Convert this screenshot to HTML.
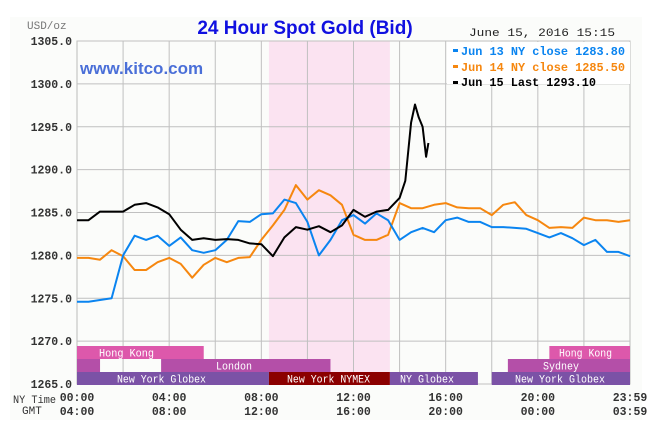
<!DOCTYPE html>
<html><head><meta charset="utf-8"><style>
body{margin:0;background:#fff;}
svg text{font-family:"Liberation Mono",monospace;}
</style></head><body>
<svg id="c" width="656" height="434" xmlns="http://www.w3.org/2000/svg">
<rect x="10" y="17" width="632" height="403" fill="#fbfcfa"/>
<g id="bg"></g>
<g id="grid"></g>
<g id="series"></g>
<g id="sessions"></g>
<g id="axes"></g>
<text x="305" y="34" text-anchor="middle" fill="#1010e0" font-size="19" font-weight="bold" style="font-family:'Liberation Sans',sans-serif">24 Hour Spot Gold (Bid)</text>
<text x="27" y="29" fill="#777" font-size="11">USD/oz</text>
<text x="469" y="36" fill="#222" font-size="11" textLength="146" lengthAdjust="spacingAndGlyphs">June 15, 2016 15:15</text>
<text x="80" y="74" fill="#4a6fd8" font-size="17" font-weight="bold" style="font-family:'Liberation Sans',sans-serif">www.kitco.com</text>
<g>
<rect x="447" y="42" width="183" height="42" fill="#fff"/>
<rect x="453" y="49" width="5" height="3" fill="#0a84f0"/>
<text x="461" y="55" fill="#0a84f0" font-size="11.5" font-weight="bold" textLength="164" lengthAdjust="spacingAndGlyphs">Jun 13 NY close 1283.80</text>
<rect x="453" y="65" width="5" height="3" fill="#f6870f"/>
<text x="461" y="71" fill="#f6870f" font-size="11.5" font-weight="bold" textLength="164" lengthAdjust="spacingAndGlyphs">Jun 14 NY close 1285.50</text>
<rect x="453" y="81" width="5" height="3" fill="#000"/>
<text x="461" y="86" fill="#000" font-size="11.5" font-weight="bold" textLength="135" lengthAdjust="spacingAndGlyphs">Jun 15 Last 1293.10</text>
</g>
</svg>
<script>
const yTicks=[1305,1300,1295,1290,1285,1280,1275,1270,1265];
const nyLabels=["00:00","04:00","08:00","12:00","16:00","20:00","23:59"];
const gmtLabels=["04:00","08:00","12:00","16:00","20:00","00:00","03:59"];
const labelHours=[0,4,8,12,16,20,24];
const jun13=[1274.6,1274.6,1274.8,1275.0,1280.0,1282.3,1281.8,1282.3,1281.1,1282.1,1280.6,1280.3,1280.6,1281.8,1284.0,1283.9,1284.8,1284.9,1286.5,1286.1,1283.9,1280.0,1281.8,1284.1,1284.7,1283.7,1284.9,1284.1,1281.8,1282.7,1283.2,1282.7,1284.1,1284.4,1283.9,1283.9,1283.3,1283.3,1283.2,1283.1,1282.6,1282.1,1282.6,1282.0,1281.2,1281.8,1280.4,1280.4,1279.9];
const jun14=[1279.7,1279.7,1279.5,1280.6,1279.9,1278.3,1278.3,1279.2,1279.7,1279.0,1277.4,1278.9,1279.7,1279.2,1279.7,1279.8,1281.8,1283.5,1285.3,1288.2,1286.5,1287.6,1287.0,1285.9,1282.4,1281.8,1281.8,1282.4,1286.1,1285.5,1285.5,1285.9,1286.1,1285.6,1285.5,1285.5,1284.7,1285.9,1286.2,1284.7,1284.1,1283.2,1283.3,1283.2,1284.4,1284.1,1284.1,1283.9,1284.1];
const jun15=[1284.1,1284.1,1285.1,1285.1,1285.1,1285.9,1286.1,1285.6,1284.8,1283.0,1281.8,1282.0,1281.8,1281.9,1281.8,1281.4,1281.3,1279.9,1282.1,1283.3,1283.0,1283.4,1282.7,1283.5,1285.3,1284.5,1285.1,1285.3,1286.7,1288.7,1295.5,1297.6,1296.1,1295.0,1291.5,1293.1];
const jun15Hours=[0,.5,1,1.5,2,2.5,3,3.5,4,4.5,5,5.5,6,6.5,7,7.5,8,8.5,9,9.5,10,10.5,11,11.5,12,12.5,13,13.5,14,14.25,14.5,14.67,14.83,15,15.15,15.25];
const NS="http://www.w3.org/2000/svg";
const X0=77,X1=630,Y0=41,Y1=384;
const xs=h=>X0+(X1-X0)*h/24;
const ys=p=>Y0+(1305-p)*(Y1-Y0)/40;
function mk(t,a,parent){const e=document.createElementNS(NS,t);for(const k in a)e.setAttribute(k,a[k]);document.getElementById(parent).appendChild(e);return e;}
let b=mk('rect',{x:xs(8.33),y:Y0,width:xs(13.58)-xs(8.33),height:Y1-Y0,fill:'#fbe3f1'},'bg');


mk('rect',{x:X0,y:Y0,width:X1-X0,height:Y1-Y0,fill:'none',stroke:'#bbb'},'grid');
for(let h=2;h<24;h+=2){let l=mk('line',{x1:xs(h),x2:xs(h),y1:Y0,y2:Y1,stroke:'#c0c0c0'},'grid');

}
yTicks.forEach(v=>{let l=mk('line',{x1:X0,x2:X1,y1:ys(v),y2:ys(v),stroke:'#c0c0c0'},'grid');


let t=mk('text',{x:72,y:ys(v)+4,'text-anchor':'end','font-size':11.5,'font-weight':'bold',fill:'#333'},'axes');t.textContent=v.toFixed(1);

});
labelHours.forEach((h,i)=>{let t=mk('text',{x:xs(h),y:401,'text-anchor':'middle','font-size':11.5,'font-weight':'bold',fill:'#333'},'axes');t.textContent=nyLabels[i];


let g=mk('text',{x:xs(h),y:415,'text-anchor':'middle','font-size':11.5,'font-weight':'bold',fill:'#333'},'axes');g.textContent=gmtLabels[i];

});
let t1=mk('text',{x:13,y:403,'font-size':11,fill:'#333',textLength:43,lengthAdjust:'spacingAndGlyphs'},'axes');t1.textContent='NY Time';


let t2=mk('text',{x:22,y:414,'font-size':11,fill:'#333'},'axes');t2.textContent='GMT';


function line(vals,hrs,col,name){const p=vals.map((v,i)=>xs(hrs?hrs[i]:i*0.5).toFixed(1)+','+ys(v).toFixed(1)).join(' ');
let e=mk('polyline',{points:p,fill:'none',stroke:col,'stroke-width':2,'stroke-linejoin':'round'},'series');

}
line(jun14,null,'#f6870f','series-jun14');
line(jun13,null,'#0a84f0','series-jun13');
line(jun15,jun15Hours,'#000','series-jun15');
// sessions: start hr, end hr, y, color, label, label x, label width
const S=[[0,5.5,346,'#dd58ab','Hong Kong',99,55],[20.5,24,346,'#dd58ab','Hong Kong',559,53],
[0,1,359,'#b44fa8','',0,0],[3.65,11,359,'#b44fa8','London',216,36],[18.7,24,359,'#b44fa8','Sydney',543,36],
[0,8.33,372,'#7b52a6','New York Globex',117,89],[8.33,13.58,372,'#8b0000','New York NYMEX',287,83],[13.58,17.4,372,'#7b52a6','NY Globex',400,54],[18.0,24,372,'#7b52a6','New York Globex',515,90]];
S.forEach(s=>{let r=mk('rect',{x:xs(s[0]),y:s[2],width:xs(s[1])-xs(s[0]),height:13,fill:s[3]},'sessions');


if(s[4]){let t=mk('text',{x:s[5],y:s[2]+10.5,'font-size':11,fill:'#fff',textLength:s[6],lengthAdjust:'spacingAndGlyphs'},'sessions');t.textContent=s[4];

}});
</script>
</body></html>
